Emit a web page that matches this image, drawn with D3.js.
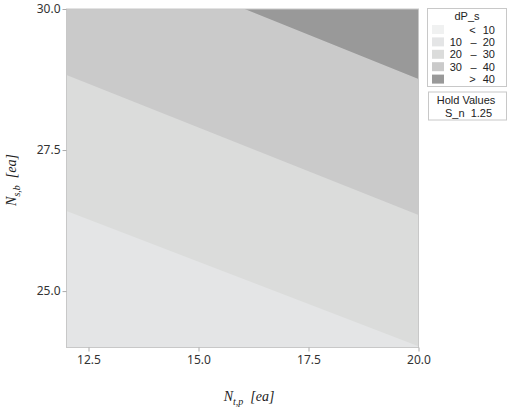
<!DOCTYPE html>
<html>
<head>
<meta charset="utf-8">
<script src="https://cdn.jsdelivr.net/npm/d3@7"></script>
<style>
  html, body { margin: 0; padding: 0; background: #fff; }
  svg { display: block; }
</style>
</head>
<body>
<svg id="chart" width="508" height="410"></svg>
<script>
// ---- Data ----
const xDomain = [12, 20];
const yDomain = [24, 30];
const xTicks = [12.5, 15.0, 17.5, 20.0];
const yTicks = [25.0, 27.5, 30.0];

// contour boundaries of dP_s (x = N_t,p, y = N_s,b)
const contourLevels = [20, 30, 40];
const contour20 = [[12, 26.42], [20, 24.02]];
const contour30 = [[12, 28.83], [20, 26.35]];
const contour40 = [[16.05, 30], [20, 28.76]];
const contourLines = [contour20, contour30, contour40];

// legend
const legendLabels = [["<", "10"], ["10", "20"], ["20", "30"], ["30", "40"], [">", "40"]];
const legendColors = ["#f0f1f1", "#e4e5e6", "#dbdcdb", "#cacaca", "#999999"];
const holdName = "S_n";
const holdValue = "1.25";

// ---- Layout ----
const svg = d3.select("#chart");
const plot = { left: 66.5, right: 418.5, top: 9, bottom: 347.5 };

const x = d3.scaleLinear().domain(xDomain).range([plot.left, plot.right]);
const y = d3.scaleLinear().domain(yDomain).range([plot.bottom, plot.top]);

svg.append("defs").append("clipPath").attr("id", "plotClip")
  .append("rect")
  .attr("x", plot.left).attr("y", plot.top)
  .attr("width", plot.right - plot.left).attr("height", plot.bottom - plot.top);

const g = svg.append("g").attr("clip-path", "url(#plotClip)");

// base band (10 - 20)
g.append("rect")
  .attr("x", plot.left).attr("y", plot.top)
  .attr("width", plot.right - plot.left).attr("height", plot.bottom - plot.top)
  .attr("fill", legendColors[1]);

const line = d3.line().x(d => x(d[0])).y(d => y(d[1]));
contourLines.forEach((pts, i) => {
  const poly = pts.concat([[xDomain[1], yDomain[1]], [xDomain[0], yDomain[1]]]);
  g.append("path")
    .attr("d", line(poly) + "Z")
    .attr("fill", legendColors[i + 2]);
});

// frame
svg.append("rect")
  .attr("x", plot.left).attr("y", plot.top)
  .attr("width", plot.right - plot.left).attr("height", plot.bottom - plot.top)
  .attr("fill", "none").attr("stroke", "#c8c8c8").attr("stroke-width", 1);

// axes
const fontTick = "'Noto Sans', 'Open Sans', sans-serif";
const xAxis = d3.axisBottom(x).tickValues(xTicks).tickFormat(d3.format(".1f")).tickSize(4).tickPadding(4);
const yAxis = d3.axisLeft(y).tickValues(yTicks).tickFormat(d3.format(".1f")).tickSize(4).tickPadding(2);

const gx = svg.append("g").attr("transform", `translate(0,${plot.bottom})`).call(xAxis);
const gy = svg.append("g").attr("transform", `translate(${plot.left},0)`).call(yAxis);
[gx, gy].forEach(a => {
  a.select(".domain").remove();
  a.selectAll(".tick line").attr("stroke", "#aaaaaa");
  a.selectAll(".tick text").attr("fill", "#333").style("font-family", fontTick).style("font-size", "12px");
});

// axis titles
const serif = "'Liberation Serif', 'DejaVu Serif', serif";
const xt = svg.append("text")
  .attr("x", 249).attr("y", 401)
  .attr("text-anchor", "middle")
  .style("font-family", serif).style("font-style", "italic").style("font-size", "14px").attr("fill", "#222");
xt.append("tspan").text("N");
xt.append("tspan").attr("dy", 4).style("font-size", "10px").text("t,p");
xt.append("tspan").attr("dy", -4).text("\u00a0\u00a0[ea]");

const yt = svg.append("text")
  .attr("transform", "translate(16,180) rotate(-90)")
  .attr("text-anchor", "middle")
  .style("font-family", serif).style("font-style", "italic").style("font-size", "14px").attr("fill", "#222");
yt.append("tspan").text("N");
yt.append("tspan").attr("dy", 4).style("font-size", "10px").text("s,b");
yt.append("tspan").attr("dy", -4).text("\u00a0\u00a0[ea]");

// legend box
const fontLegend = "'Liberation Sans', Arial, sans-serif";
const lg = svg.append("g").style("font-family", fontLegend).style("font-size", "11px").attr("fill", "#222");
lg.append("rect").attr("x", 427.5).attr("y", 8.5).attr("width", 79).attr("height", 78)
  .attr("fill", "#fff").attr("stroke", "#c8c8c8");
lg.append("text").attr("x", 467).attr("y", 20).attr("text-anchor", "middle").text("dP_s");
legendLabels.forEach((lab, i) => {
  const cy = 29.5 + i * 12.4;
  lg.append("rect").attr("x", 432).attr("y", cy - 4.5).attr("width", 12).attr("height", 9)
    .attr("fill", legendColors[i]);
  if (lab[0] === "<" || lab[0] === ">") {
    lg.append("text").attr("x", 472.5).attr("y", cy + 4).attr("text-anchor", "middle").text(lab[0]);
    lg.append("text").attr("x", 495).attr("y", cy + 4).attr("text-anchor", "end").text(lab[1]);
  } else {
    lg.append("text").attr("x", 462).attr("y", cy + 4).attr("text-anchor", "end").text(lab[0]);
    lg.append("text").attr("x", 473.5).attr("y", cy + 4).attr("text-anchor", "middle").text("\u2013");
    lg.append("text").attr("x", 495).attr("y", cy + 4).attr("text-anchor", "end").text(lab[1]);
  }
});

// hold values box
lg.append("rect").attr("x", 428.5).attr("y", 92).attr("width", 78).attr("height", 28)
  .attr("fill", "#fff").attr("stroke", "#c8c8c8");
lg.append("text").attr("x", 466).attr("y", 104).attr("text-anchor", "middle").text("Hold Values");
lg.append("text").attr("x", 468.5).attr("y", 116.5).attr("text-anchor", "middle")
  .text(holdName + "\u00a0\u00a0" + holdValue);
</script>
</body>
</html>
